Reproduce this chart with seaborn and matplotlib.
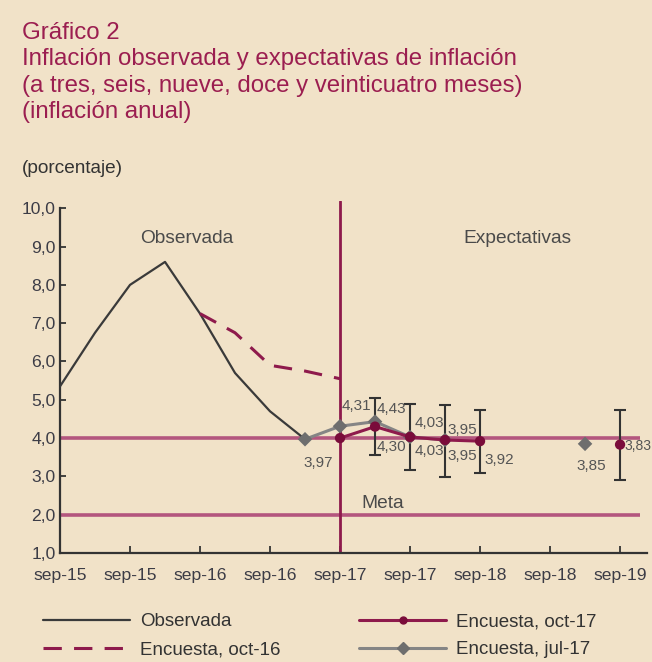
import numpy as np
import pandas as pd
import matplotlib
matplotlib.use("Agg")
import matplotlib.pyplot as plt
from matplotlib.lines import Line2D
import seaborn as sns

# ---------------- data ----------------
tick_pos = [0, 2, 4, 6, 8, 10, 12, 14, 16]
tick_labels = ["sep-15", "sep-15", "sep-16", "sep-16", "sep-17",
               "sep-17", "sep-18", "sep-18", "sep-19"]
y_ticks = [1, 2, 3, 4, 5, 6, 7, 8, 9, 10]

obs_q = [0, 1, 2, 3, 4, 5, 6, 7]
obs_v = [5.35, 6.75, 8.0, 8.6, 7.25, 5.7, 4.7, 3.97]

oct16_q = [4, 5, 6, 7, 8]
oct16_v = [7.25, 6.75, 5.9, 5.75, 5.55]

jul17_q = [7, 8, 9, 10, 11, 15]
jul17_v = [3.97, 4.31, 4.43, 4.03, 3.95, 3.85]

oct17_q = [8, 9, 10, 11, 12, 16]
oct17_v = [4.00, 4.30, 4.03, 3.95, 3.92, 3.83]

err_q = [9, 10, 11, 12, 16]
err_hi = [5.05, 4.89, 4.86, 4.73, 4.73]
err_lo = [3.56, 3.17, 2.98, 3.09, 2.91]

meta_hi = 4.0
meta_lo = 2.0
cut_q = 8

# labels: (q, value, text, dx_px, dy_px, ha, size)
jul17_labels = [(7, 3.97, "3,97", 13, -24, "center", 11),
                (8, 4.31, "4,31", 16, 20, "center", 11),
                (9, 4.43, "4,43", 16, 13, "center", 11),
                (10, 4.03, "4,03", 19, 14, "center", 11),
                (11, 3.95, "3,95", 17, 10, "center", 11),
                (15, 3.85, "3,85", 6, -22, "center", 11)]
oct17_labels = [(9, 4.30, "4,30", 16, -20, "center", 11),
                (10, 4.03, "4,03", 19, -14, "center", 11),
                (11, 3.95, "3,95", 17, -16, "center", 11),
                (12, 3.92, "3,92", 19, -19, "center", 11),
                (16, 3.83, "3,83", 4, -1, "left", 10)]

# ---------------- style ----------------
BG = "#F1E2C8"
TITLE_C = "#9B1E50"
MAROON = "#8E1A4C"
DOT_C = "#7A0C3A"
META_C = "#B4567E"
GRAY = "#858585"
DGRAY = "#6E6E6E"
TXT = "#3C3C46"

sns.set_theme(style="white")
plt.rcParams["font.family"] = ["Liberation Sans", "DejaVu Sans"]

fig = plt.figure(figsize=(6.52, 6.62), dpi=100, facecolor=BG)
W, H = 652, 662
ax = fig.add_axes([60 / W, (H - 553) / H, (647 - 60) / W, (553 - 201) / H])
ax.set_facecolor(BG)
ax.set_xlim(0, 16.77)
ax.set_ylim(1, 10.19)


def runs(q, v):
    out = []
    cur_q, cur_v = [q[0]], [v[0]]
    for a, b in zip(q[1:], v[1:]):
        if a - cur_q[-1] == 1:
            cur_q.append(a); cur_v.append(b)
        else:
            out.append((cur_q, cur_v)); cur_q, cur_v = [a], [b]
    out.append((cur_q, cur_v))
    return out


# meta lines and cut line
ax.hlines([meta_hi, meta_lo], 0, 16.57, colors=META_C, lw=2.6, zorder=1)
ax.axvline(cut_q, ymin=0, ymax=1, color=MAROON, lw=2, zorder=1)

# observed
sns.lineplot(x=obs_q, y=obs_v, ax=ax, color="#3A3A3A", lw=1.6, legend=False, zorder=3)
# oct-16 survey (dashed)
sns.lineplot(x=oct16_q, y=oct16_v, ax=ax, color=MAROON, lw=2.2,
             legend=False, zorder=3).lines[-1].set_dashes([6, 4])

# error bars
err_mid = [(h + l) / 2 for h, l in zip(err_hi, err_lo)]
ax.errorbar(err_q, err_mid,
            yerr=[np.array(err_mid) - np.array(err_lo), np.array(err_hi) - np.array(err_mid)],
            fmt="none", ecolor="#333333", elinewidth=1.5, capsize=4, capthick=1.5, zorder=2)

# jul-17
for rq, rv in runs(jul17_q, jul17_v):
    if len(rq) > 1:
        sns.lineplot(x=rq, y=rv, ax=ax, color=GRAY, lw=2.2, legend=False, zorder=4)
    sns.scatterplot(x=rq, y=rv, ax=ax, color=DGRAY, marker="D", s=55,
                    edgecolor="none", legend=False, zorder=5)
# oct-17
for rq, rv in runs(oct17_q, oct17_v):
    if len(rq) > 1:
        sns.lineplot(x=rq, y=rv, ax=ax, color=MAROON, lw=2.2, legend=False, zorder=6)
    sns.scatterplot(x=rq, y=rv, ax=ax, color=DOT_C, marker="o", s=55,
                    edgecolor="none", legend=False, zorder=7)

for q, v, t, dx, dy, ha, fs in jul17_labels + oct17_labels:
    ax.annotate(t, xy=(q, v), xytext=(dx, dy), textcoords="offset pixels",
                ha=ha, va="center", fontsize=fs, color="#555555", zorder=8,
                annotation_clip=False)

ax.text(3.63, 9.22, "Observada", ha="center", va="center", fontsize=13.8, color="#4A4A4A")
ax.text(13.06, 9.22, "Expectativas", ha="center", va="center", fontsize=13.8, color="#4A4A4A")
ax.text(9.23, 2.28, "Meta", ha="center", va="center", fontsize=13.8, color="#4A4A4A")

# axes styling
ax.set_xticks(tick_pos)
ax.set_xticklabels(tick_labels)
ax.set_yticks(y_ticks)
ax.set_yticklabels([f"{y:.1f}".replace(".", ",") for y in y_ticks])
ax.tick_params(axis="x", direction="in", length=5, width=1.3, color="#333333",
               labelsize=12.6, labelcolor=TXT, pad=11, bottom=True)
ax.tick_params(axis="y", direction="in", length=4, width=1.3, color="#333333",
               labelsize=12.6, labelcolor=TXT, pad=3, left=True)
for s in ["top", "right"]:
    ax.spines[s].set_visible(False)
for s in ["left", "bottom"]:
    ax.spines[s].set_color("#333333")
    ax.spines[s].set_linewidth(1.6)
ax.spines["left"].set_bounds(1, 10)
ax.set_xlabel(""); ax.set_ylabel("")

# titles
title_lines = ["Gráfico 2",
               "Inflación observada y expectativas de inflación",
               "(a tres, seis, nueve, doce y veinticuatro meses)",
               "(inflación anual)"]
for i, t in enumerate(title_lines):
    fig.text(22 / W, 1 - (39 + 26.3 * i) / H, t, ha="left", va="baseline",
             fontsize=17.3, color=TITLE_C)
fig.text(22 / W, 1 - 173 / H, "(porcentaje)", ha="left", va="baseline",
         fontsize=13.7, color="#333333")

# legend
handles = [Line2D([], [], color="#3A3A3A", lw=1.6),
           Line2D([], [], color=MAROON, lw=2.2, dashes=[6, 4]),
           Line2D([], [], color=MAROON, lw=2.2, marker="o", ms=5, mfc=DOT_C, mec=DOT_C),
           Line2D([], [], color=GRAY, lw=2.2, marker="D", ms=6, mfc=DGRAY, mec=DGRAY)]
labels = ["Observada", "Encuesta, oct-16", "Encuesta, oct-17", "Encuesta, jul-17"]
fig.legend(handles, labels, ncol=2, loc="upper left",
           bbox_to_anchor=(43 / W, 1 - 613 / H), frameon=False, fontsize=13.5,
           handlelength=4.64, handletextpad=0.53, columnspacing=4.21,
           labelspacing=0.6, borderpad=0, borderaxespad=0,
           labelcolor="#333333")

fig.savefig("out.png", dpi=100, facecolor=BG)
